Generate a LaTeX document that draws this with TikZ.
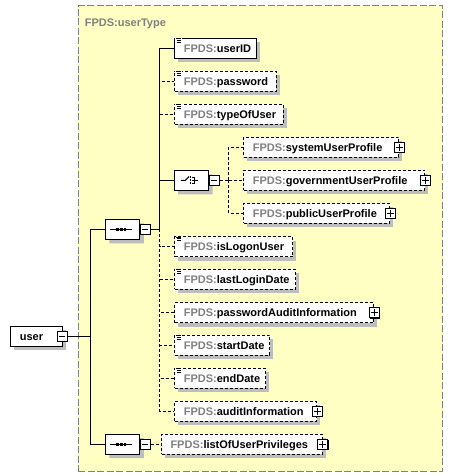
\documentclass[tikz,border=0pt]{standalone}
\usepackage{fontspec}
\setmainfont{Liberation Sans}
\usetikzlibrary{shapes.misc}
\definecolor{yel}{HTML}{FFFFC4}
\definecolor{fpgray}{HTML}{808080}
\definecolor{shgray}{HTML}{BDBDBD}
\definecolor{boxgray}{HTML}{808080}
\newcommand\fp{\textcolor{fpgray}{FPDS:}}
% #1 style, #2 name, #3 x, #4 centre y, #5 width, #6 label
\newcommand\elnode[6]{%
  \fill[shgray] (#3+4,#4-6) rectangle (#3+#5+4,#4+14);
  \node[#1, minimum width=#5pt] (#2) at (#3,#4) {\makebox[\dimexpr#5pt-18pt\relax][l]{\fp#6}};}
\newcommand\simpicon[1]{%
  \fill[white] ([shift={(0.6,0.6)}]#1.north west) rectangle ++(7,4.8);
  \draw[line width=0.7pt] ([shift={(1.4,0.9)}]#1.north west) -- ++(5.2,0);
  \draw[line width=0.7pt] ([shift={(2.4,2.6)}]#1.north west) -- ++(4.2,0);
  \draw[line width=0.7pt] ([shift={(2.4,4.3)}]#1.north west) -- ++(4.2,0);}
% #1 style, #2 name, #3 x, #4 y
\newcommand\octnode[4]{%
  \node[oct, fill=shgray, draw=none] (#2sh) at (#3+4,#4+4) {};
  \node[oct] (#2) at (#3,#4) {};}
\newcommand\sqnode[3]{%
  \fill[black] (#3) ++(-4,-4) rectangle ++(10,10);
  \node[#1] (#2) at (#3) {};}
\tikzset{
  el/.style={draw, fill=white, anchor=west, minimum height=20pt, inner xsep=9pt, inner ysep=0pt,
    text height=8pt, text depth=0pt, font=\bfseries\fontsize{11}{13}\selectfont},
  opt/.style={el, dash pattern=on 3pt off 2pt},
  oct/.style={chamfered rectangle, chamfered rectangle xsep=5pt, chamfered rectangle ysep=5pt,
    draw, fill=white, minimum width=34.5pt, minimum height=20pt, inner sep=0pt},
  sq/.style={draw, fill=white, minimum size=10pt, inner sep=0pt},
  mbox/.style={sq, path picture={\draw[line width=1pt] ([xshift=-3pt]path picture bounding box.center) -- ([xshift=3pt]path picture bounding box.center);}},
  pbox/.style={sq, path picture={\draw[line width=1pt] ([xshift=-3.5pt]path picture bounding box.center) -- ([xshift=3.5pt]path picture bounding box.center);
     \draw[line width=1pt] ([yshift=-3.5pt]path picture bounding box.center) -- ([yshift=3.5pt]path picture bounding box.center);}},
  con/.style={line width=1pt},
  dcon/.style={line width=1pt, dash pattern=on 3pt off 2pt},
}
\begin{document}
\begin{tikzpicture}[x=1pt,y=-1pt,line width=1pt]
\useasboundingbox (0,0) rectangle (452,476);
% container
\node[draw=boxgray, fill=yel, dash pattern=on 7pt off 2.5pt, anchor=north west,
  minimum width=364.5pt, minimum height=465pt, inner sep=0pt] (ct) at (77.5,5.5) {};
\node[anchor=west, inner sep=0pt, text=fpgray, font=\bfseries\fontsize{11}{13}\selectfont,
  text height=8pt, text depth=0pt] (title) at (84.3,23) {FPDS:userType};
% root
\fill[shgray] (14.3,330.3) rectangle (65.7,350.3);
\node[el, minimum width=51.4pt] (user) at (10.3,336.3) {\makebox[33.4pt][l]{user}};
\sqnode{mbox}{userm}{62.2,336.3}
% sequences and choice
\octnode{oct}{seq1}{122.6}{229.3}
\sqnode{mbox}{seq1m}{145.3,229.3}
\octnode{oct}{seq2}{122.6}{444.0}
\sqnode{mbox}{seq2m}{145.3,444.0}
\octnode{oct}{choice}{191.3}{180.3}
\sqnode{mbox}{choicem}{214.3,180.3}
% sequence symbols
\foreach \s in {seq1,seq2}{
  \begin{scope}[shift={(\s.center)}]
    \draw[line width=1pt] (-12.5,0) -- (9,0);
    \foreach \q in {-6.3,-2.6,1.1} \fill (\q,-1.5) rectangle ++(2.7,3);
  \end{scope}}
% choice symbol
\begin{scope}[shift={(choice.center)}]
  \draw[line width=1pt] (-10.5,0) -- (-6,0) -- (-2.2,-3.8);
  \foreach \q in {-3,0,3} \fill (-1.8,\q-0.9) rectangle ++(1.8,1.8);
  \draw[line width=1pt] (0.5,-3) -- (3.5,-3) -- (3.5,3) -- (0.5,3);
  \draw[line width=1pt] (0.5,0) -- (7,0);
\end{scope}
% elements
\elnode{el}{userID}{174.3}{48.3}{81.4}{userID}
\elnode{opt}{password}{174.3}{81.3}{101.4}{password}
\elnode{opt}{typeOfUser}{174.3}{114.3}{108.4}{typeOfUser}
\elnode{opt}{sysP}{243.3}{147.3}{155}{systemUserProfile}
\elnode{opt}{govP}{243.3}{180.3}{181}{governmentUserProfile}
\elnode{opt}{pubP}{243.3}{213.3}{145.7}{publicUserProfile}
\elnode{opt}{isLogon}{174.3}{246.6}{118}{isLogonUser}
\elnode{opt}{lastLogin}{174.3}{279.3}{120.7}{lastLoginDate}
\elnode{opt}{pwdAudit}{174.3}{312.6}{199}{passwordAuditInformation}
\elnode{opt}{startD}{174.3}{345.3}{95}{startDate}
\elnode{opt}{endD}{174.3}{378.3}{90.7}{endDate}
\elnode{opt}{audit}{174.3}{411.3}{141.7}{auditInformation}
\elnode{opt}{privs}{161}{444.0}{160.7}{listOfUserPrivileges}
% simple-type icons
\foreach \n in {userID,password,typeOfUser,isLogon,lastLogin,startD,endD} {\simpicon{\n}}
% expand icons
\foreach \n in {sysP,govP,pubP,pwdAudit,audit,privs} {\sqnode{pbox}{\n x}{\n.east}}
% connectors
\coordinate (b0) at (90.7,336.3);
\coordinate (b1) at (159.7,229.3);
\coordinate (b2) at (228.7,180.3);
\draw[con] (userm.east) -- (b0);
\draw[con] (b0) |- (seq1.west);
\draw[con] (b0) |- (seq2.west);
\draw[con] (seq1m.east) -- (b1);
\draw[con] (b1) |- (userID.west);
\draw[con] (b1) |- (choice.west);
\foreach \n in {password,typeOfUser} {\draw[dcon] (b1) |- (\n.west);}
\foreach \n in {isLogon,lastLogin,pwdAudit,startD,endD,audit} {\draw[dcon] (b1) |- (\n.west);}
\draw[dcon] (choicem.east) -- (b2);
\foreach \n in {sysP,govP,pubP} {\draw[dcon] (b2) |- (\n.west);}
\draw[dcon] (seq2m.east) -- (privs.west);
\end{tikzpicture}
\end{document}
